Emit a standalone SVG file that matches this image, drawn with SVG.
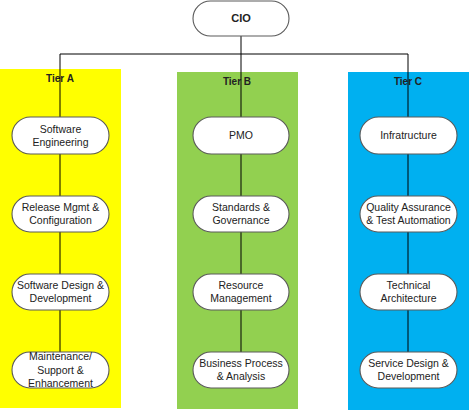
<svg xmlns="http://www.w3.org/2000/svg" width="469" height="410" viewBox="0 0 469 410">
<style>
.node rect{fill:#fff;stroke:#5a5a5a;stroke-width:1.1}
.node text{font-family:"Liberation Sans",Arial,sans-serif;font-size:10.5px;fill:#222;text-anchor:middle}
.tier{font-family:"Liberation Sans",Arial,sans-serif;font-size:10px;font-weight:bold;fill:#222;text-anchor:middle}
.conn{stroke:#000;stroke-width:1;fill:none}
</style>
<g id="panels">
<rect x="0" y="69" width="121" height="339" fill="#ffff00"/>
<rect x="177" y="72" width="121" height="337" fill="#92d050"/>
<rect x="348" y="72" width="121" height="338" fill="#00b0f0"/>
<text class="tier" x="60" y="82">Tier A</text>
<text class="tier" x="237" y="85">Tier B</text>
<text class="tier" x="408" y="85">Tier C</text>
</g>
<g id="connectors">
<path class="conn" d="M241 36V352"/>
<path class="conn" d="M60 54H408"/>
<path class="conn" d="M60 54V352"/>
<path class="conn" d="M408 54V352"/>
</g>
<g id="cio" class="node"><rect x="193" y="1" width="96" height="35" rx="17.5"/><text x="241" y="22" style="font-weight:bold;font-size:11px">CIO</text></g>
<g id="a1" class="node"><rect x="12" y="117" width="97" height="37" rx="18.5"/><text x="60.5" y="132.7">Software</text><text x="60.5" y="145.7">Engineering</text></g>
<g id="a2" class="node"><rect x="12" y="196" width="97" height="36" rx="18"/><text x="60.5" y="211.2">Release Mgmt &amp;</text><text x="60.5" y="224.2">Configuration</text></g>
<g id="a3" class="node"><rect x="12" y="274" width="97" height="36" rx="18"/><text x="60.5" y="289.2">Software Design &amp;</text><text x="60.5" y="302.2">Development</text></g>
<g id="a4" class="node"><rect x="12" y="352" width="97" height="36" rx="18"/><text x="60.5" y="359.5">Maintenance/</text><text x="60.5" y="373.5">Support &amp;</text><text x="60.5" y="387">Enhancement</text></g>
<g id="b1" class="node"><rect x="193" y="117" width="96" height="37" rx="18.5"/><text x="241" y="139.3">PMO</text></g>
<g id="b2" class="node"><rect x="193" y="196" width="96" height="36" rx="18"/><text x="241" y="211.2">Standards &amp;</text><text x="241" y="224.2">Governance</text></g>
<g id="b3" class="node"><rect x="193" y="274" width="96" height="36" rx="18"/><text x="241" y="289.2">Resource</text><text x="241" y="302.2">Management</text></g>
<g id="b4" class="node"><rect x="193" y="352" width="96" height="36" rx="18"/><text x="241" y="367.2">Business Process</text><text x="241" y="380.2">&amp; Analysis</text></g>
<g id="c1" class="node"><rect x="360" y="117" width="97" height="37" rx="18.5"/><text x="408.5" y="139.3">Infratructure</text></g>
<g id="c2" class="node"><rect x="360" y="196" width="97" height="36" rx="18"/><text x="408.5" y="211.2">Quality Assurance</text><text x="408.5" y="224.2">&amp; Test Automation</text></g>
<g id="c3" class="node"><rect x="360" y="274" width="97" height="36" rx="18"/><text x="408.5" y="289.2">Technical</text><text x="408.5" y="302.2">Architecture</text></g>
<g id="c4" class="node"><rect x="360" y="352" width="97" height="36" rx="18"/><text x="408.5" y="367.2">Service Design &amp;</text><text x="408.5" y="380.2">Development</text></g>
</svg>
